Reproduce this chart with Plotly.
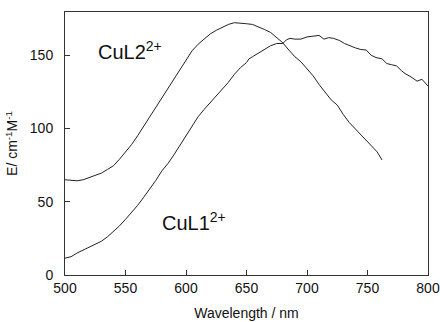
import plotly.graph_objects as go

# CuL2 2+ spectrum
cul2_wl = [500, 505, 510, 515, 520, 525, 530, 535, 540, 545, 550, 555, 560, 565, 570,
           575, 580, 585, 590, 595, 600, 605, 610, 615, 620, 625, 630, 635, 640, 645,
           650, 655, 660, 665, 670, 675, 680, 685, 690, 695, 700, 705, 710, 715, 720,
           725, 730, 735, 740, 745, 750, 755, 758, 762]
cul2_eps = [65, 64.5, 64.3, 65, 66.5, 67.5, 69.5, 72, 74.5, 79, 84, 89, 95, 101.5, 108,
            114, 120.5, 127, 133.5, 140, 147, 153, 157.5, 161, 164.5, 167, 169, 171, 172.2, 172,
            171.5, 171, 169.5, 167.5, 165.5, 162, 158.5, 153.5, 149, 145.5, 141, 136, 130, 125, 119.5,
            116, 109.5, 104, 99.5, 95, 90.5, 86.5, 84, 78.5]

# CuL1 2+ spectrum
cul1_wl = [500, 505, 510, 515, 520, 525, 530, 535, 540, 545, 550, 555, 560, 565, 570,
           575, 580, 585, 590, 595, 600, 605, 610, 615, 620, 625, 630, 635, 640, 645,
           650, 652, 655, 660, 665, 670, 675, 680, 683, 686, 690, 695, 700, 705, 710,
           714, 718, 722, 727, 731, 735, 740, 744, 749, 753, 757, 762, 766, 770, 774,
           778, 781, 786, 791, 795, 800]
cul1_eps = [11.5, 12.5, 15, 17, 19, 20.5, 23, 26, 29.5, 33.5, 38, 42.5, 47.5, 53, 58.5,
            64.5, 71, 76, 82, 88.5, 95, 101.5, 108, 113, 117.5, 122, 126.5, 131.5, 137, 141.5,
            145, 147.5, 149, 151.5, 153.5, 156.5, 158, 158, 160.5, 161.5, 161, 161, 162.5, 163, 163.5,
            161, 162, 161.5, 160, 158, 156.5, 155, 154, 153.5, 150, 148.4, 147.5, 144.3, 143.5, 142.7,
            139.5, 137.5, 135.2, 132.3, 133.6, 129]

x_ticks = [500, 550, 600, 650, 700, 750, 800]
y_ticks = [0, 50, 100, 150]

line_style = dict(color="#222222", width=1)

fig = go.Figure()
fig.add_trace(go.Scatter(x=cul2_wl, y=cul2_eps, mode="lines", line=line_style,
                         name="CuL2", showlegend=False))
fig.add_trace(go.Scatter(x=cul1_wl, y=cul1_eps, mode="lines", line=line_style,
                         name="CuL1", showlegend=False))

font = "Liberation Sans, Arial, sans-serif"
fig.add_annotation(x=526, y=153, text="CuL2<sup>2+</sup>", showarrow=False,
                   xanchor="left", yanchor="middle", font=dict(family=font, size=20, color="#111"))
fig.add_annotation(x=578.5, y=36.5, text="CuL1<sup>2+</sup>", showarrow=False,
                   xanchor="left", yanchor="middle", font=dict(family=font, size=20, color="#111"))

axis_common = dict(showgrid=False, zeroline=False, showline=True, mirror=True,
                   linecolor="#333333", linewidth=1, ticks="inside", ticklen=5,
                   tickcolor="#333333", tickfont=dict(family=font, size=14, color="#111"),
                   automargin=False)

fig.update_xaxes(range=[500, 800], tickvals=x_ticks, ticktext=[str(v) for v in x_ticks],
                 title=dict(text="Wavelength / nm", font=dict(family=font, size=14, color="#111"),
                            standoff=13),
                 **axis_common)
fig.update_yaxes(range=[0, 179.5], tickvals=y_ticks, ticktext=[str(v) for v in y_ticks],
                 title=dict(text="E/ cm<sup>-1</sup>M<sup>-1</sup>",
                            font=dict(family=font, size=14, color="#111"), standoff=8),
                 ticklabelstandoff=8,
                 **axis_common)

fig.update_layout(width=440, height=322, margin=dict(l=65, r=12, t=12, b=47),
                  plot_bgcolor="white", paper_bgcolor="white")

fig.write_html("out.html")
